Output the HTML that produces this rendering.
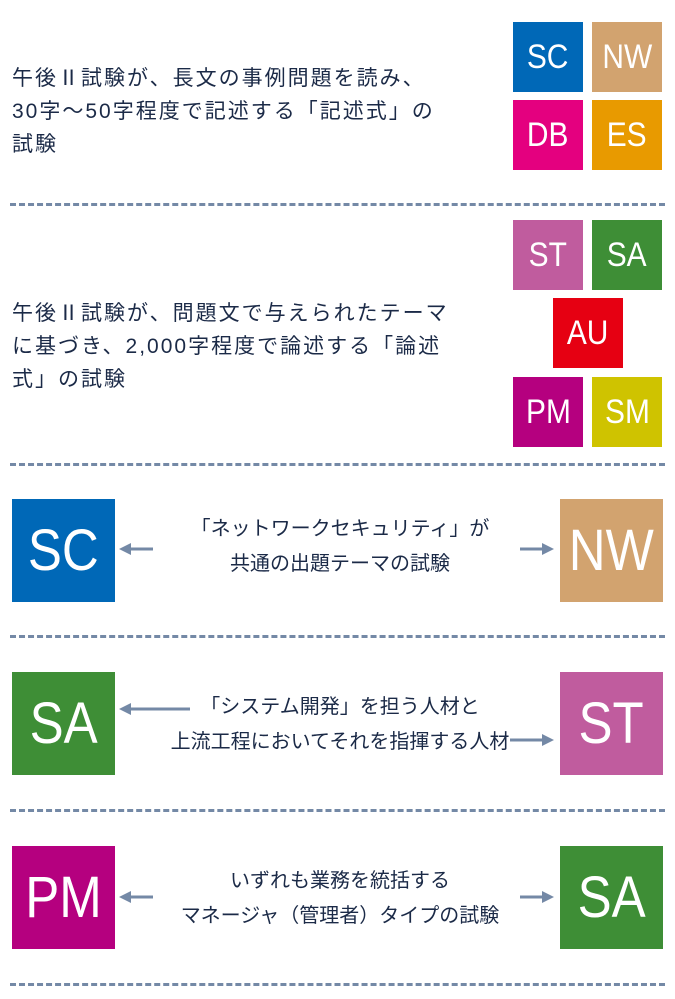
<!DOCTYPE html>
<html><head><meta charset="utf-8"><style>
body{margin:0;width:675px;height:999px;background:#fff;position:relative;overflow:hidden;font-family:"Liberation Sans","Noto Sans CJK JP",sans-serif;color:#1b2a47}
.b{position:absolute;color:#fff;display:flex;align-items:center;justify-content:center;font-family:"Liberation Sans",sans-serif}
.b span{display:inline-block;transform:scaleX(0.88)}
.s{width:70px;height:70px;font-size:34px}
.L{width:103px;height:103px;font-size:58px}
.d{position:absolute;left:10px;width:655px;height:0;border-top:3px dashed #7489a6}
.t{position:absolute;font-size:21px;letter-spacing:2px;line-height:33px;white-space:nowrap}
.c{position:absolute;font-size:20px;line-height:35px;text-align:center;white-space:nowrap;left:140px;width:400px}
svg{position:absolute;left:0;top:0}
</style></head><body>
<div class="b s" style="left:513px;top:22px;background:#0068b7"><span>SC</span></div>
<div class="b s" style="left:592px;top:22px;background:#d2a36f"><span>NW</span></div>
<div class="b s" style="left:513px;top:100px;background:#e4007f"><span>DB</span></div>
<div class="b s" style="left:592px;top:100px;background:#e89a00"><span>ES</span></div>
<div class="t" style="left:12px;top:62px">午後Ⅱ試験が、長文の事例問題を読み、<br>30字〜50字程度で記述する「記述式」の<br>試験</div>
<div class="d" style="top:203px"></div>
<div class="b s" style="left:513px;top:220px;background:#c05c9e"><span>ST</span></div>
<div class="b s" style="left:592px;top:220px;background:#3e8e36"><span>SA</span></div>
<div class="b s" style="left:553px;top:298px;background:#e60012"><span>AU</span></div>
<div class="b s" style="left:513px;top:377px;background:#b5007f"><span>PM</span></div>
<div class="b s" style="left:592px;top:377px;background:#cfc300"><span>SM</span></div>
<div class="t" style="left:12px;top:297px">午後Ⅱ試験が、問題文で与えられたテーマ<br>に基づき、2,000字程度で論述する「論述<br>式」の試験</div>
<div class="d" style="top:463px"></div>
<div class="b L" style="left:12px;top:499px;background:#0068b7"><span>SC</span></div>
<div class="b L" style="left:560px;top:499px;background:#d2a36f"><span>NW</span></div>
<div class="c" style="top:512px">「ネットワークセキュリティ」が<br>共通の出題テーマの試験</div>
<div class="d" style="top:635px"></div>
<div class="b L" style="left:12px;top:672px;background:#3e8e36"><span>SA</span></div>
<div class="b L" style="left:560px;top:672px;background:#c05c9e"><span>ST</span></div>
<div class="c" style="top:690px">「システム開発」を担う人材と<br>上流工程においてそれを指揮する人材</div>
<div class="d" style="top:809px"></div>
<div class="b L" style="left:12px;top:846px;background:#b5007f"><span>PM</span></div>
<div class="b L" style="left:560px;top:846px;background:#3e8e36"><span>SA</span></div>
<div class="c" style="top:864px">いずれも業務を統括する<br>マネージャ（管理者）タイプの試験</div>
<div class="d" style="top:983px"></div>
<svg width="675" height="999">
<g stroke="#7489a6" stroke-width="3" fill="#7489a6">
<line x1="128" y1="549" x2="153" y2="549"/><polygon points="119,549 131,543 131,555" stroke="none"/>
<line x1="520" y1="549" x2="545" y2="549"/><polygon points="554,549 542,543 542,555" stroke="none"/>
<line x1="128" y1="709" x2="190" y2="709"/><polygon points="119,709 131,703 131,715" stroke="none"/>
<line x1="510" y1="740" x2="545" y2="740"/><polygon points="554,740 542,734 542,746" stroke="none"/>
<line x1="128" y1="897" x2="153" y2="897"/><polygon points="119,897 131,891 131,903" stroke="none"/>
<line x1="520" y1="897" x2="545" y2="897"/><polygon points="554,897 542,891 542,903" stroke="none"/>
</g></svg>
</body></html>
